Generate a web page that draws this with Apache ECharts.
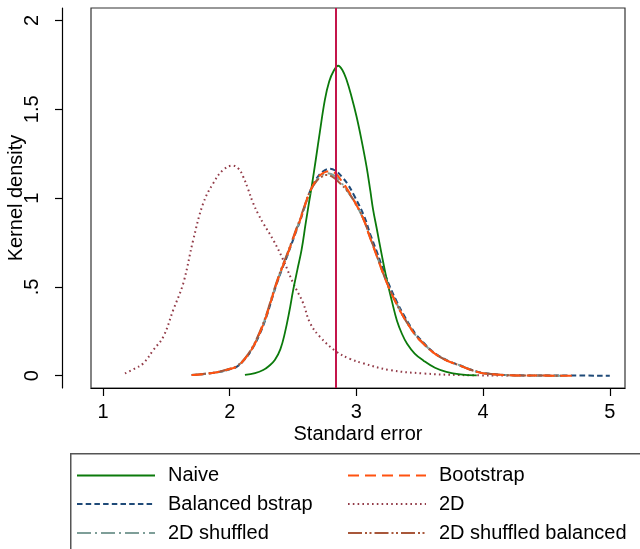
<!DOCTYPE html>
<html>
<head>
<meta charset="utf-8">
<script src="https://cdn.jsdelivr.net/npm/echarts@6.0.0/dist/echarts.min.js"></script>
<style>
html,body{margin:0;padding:0;background:#fff;}
#chart{width:640px;height:549px;}
</style>
</head>
<body>
<div id="chart"></div>
<script>
// ---- data ----
const xTicks = [1, 2, 3, 4, 5];
const xTickLabels = ['1', '2', '3', '4', '5'];
const yTicks = [0, 0.5, 1, 1.5, 2];
const yTickLabels = ['0', '.5', '1', '1.5', '2'];
const refLineX = 2.843;

const naive = [[2.12,0.005],[2.20,0.015],[2.264,0.032],[2.31,0.055],[2.356,0.088],[2.40,0.15],[2.435,0.24],[2.47,0.36],[2.501,0.483],[2.535,0.60],[2.567,0.708],[2.60,0.86],[2.627,0.98],[2.646,1.06],[2.68,1.22],[2.711,1.37],[2.751,1.553],[2.785,1.656],[2.82,1.715],[2.856,1.745],[2.89,1.72],[2.922,1.666],[2.961,1.572],[3.001,1.459],[3.040,1.328],[3.080,1.177],[3.11,1.04],[3.132,0.934],[3.16,0.83],[3.20,0.68],[3.24,0.54],[3.28,0.42],[3.32,0.31],[3.36,0.235],[3.40,0.18],[3.46,0.125],[3.53,0.085],[3.62,0.045],[3.71,0.022],[3.82,0.008],[3.95,0.002]];

const bootstrap = [[1.70,0.004],[1.80,0.010],[1.923,0.023],[2.00,0.038],[2.054,0.051],[2.12,0.095],[2.185,0.163],[2.24,0.245],[2.291,0.34],[2.33,0.43],[2.37,0.52],[2.41,0.60],[2.449,0.67],[2.49,0.75],[2.528,0.825],[2.555,0.875],[2.58,0.93],[2.632,1.035],[2.685,1.105],[2.735,1.14],[2.79,1.152],[2.84,1.135],[2.88,1.1],[2.92,1.06],[2.974,0.995],[3.053,0.885],[3.106,0.78],[3.16,0.675],[3.211,0.575],[3.26,0.49],[3.316,0.405],[3.37,0.333],[3.421,0.274],[3.47,0.224],[3.526,0.182],[3.59,0.14],[3.658,0.106],[3.73,0.08],[3.815,0.058],[3.90,0.034],[3.987,0.016],[4.10,0.007],[4.254,0.002],[4.45,0.001],[4.70,0]];

const balancedBstrap = [[1.70,0.004],[1.80,0.010],[1.923,0.022],[2.00,0.036],[2.054,0.05],[2.12,0.093],[2.185,0.16],[2.24,0.24],[2.291,0.335],[2.33,0.425],[2.37,0.515],[2.41,0.595],[2.449,0.665],[2.49,0.745],[2.528,0.82],[2.555,0.87],[2.58,0.925],[2.632,1.035],[2.685,1.11],[2.735,1.15],[2.79,1.165],[2.84,1.152],[2.885,1.12],[2.93,1.08],[2.985,1.01],[3.06,0.9],[3.11,0.795],[3.165,0.69],[3.215,0.59],[3.265,0.5],[3.32,0.415],[3.375,0.34],[3.425,0.28],[3.475,0.228],[3.53,0.186],[3.59,0.143],[3.66,0.108],[3.73,0.082],[3.815,0.059],[3.90,0.035],[3.987,0.017],[4.10,0.008],[4.254,0.003],[4.45,0.001],[4.70,0.001],[5.00,0]];

const twoD = [[1.173,0.013],[1.25,0.04],[1.318,0.07],[1.397,0.145],[1.476,0.22],[1.554,0.37],[1.633,0.52],[1.712,0.765],[1.791,0.971],[1.870,1.084],[1.949,1.159],[2.023,1.183],[2.07,1.165],[2.106,1.121],[2.145,1.05],[2.185,0.971],[2.225,0.91],[2.264,0.859],[2.343,0.765],[2.422,0.652],[2.501,0.521],[2.58,0.408],[2.632,0.30],[2.711,0.22],[2.843,0.135],[2.95,0.095],[3.053,0.07],[3.263,0.032],[3.526,0.013],[3.815,0.004],[4.2,0.001]];

const twoDShuffled = [[1.70,0.004],[1.80,0.010],[1.923,0.023],[2.00,0.038],[2.054,0.052],[2.12,0.096],[2.185,0.165],[2.24,0.248],[2.291,0.343],[2.33,0.433],[2.37,0.522],[2.41,0.602],[2.449,0.672],[2.49,0.752],[2.528,0.826],[2.555,0.876],[2.58,0.928],[2.632,1.03],[2.685,1.1],[2.735,1.132],[2.775,1.14],[2.83,1.125],[2.87,1.095],[2.915,1.055],[2.974,0.99],[3.053,0.886],[3.106,0.782],[3.16,0.678],[3.211,0.578],[3.26,0.492],[3.316,0.408],[3.37,0.336],[3.421,0.277],[3.47,0.226],[3.526,0.184],[3.59,0.141],[3.658,0.107],[3.73,0.081],[3.815,0.059],[3.90,0.035],[3.987,0.016],[4.10,0.007],[4.254,0.002],[4.45,0.001],[4.65,0]];

const twoDShuffledBal = [[1.70,0.004],[1.80,0.011],[1.923,0.024],[2.00,0.039],[2.054,0.053],[2.12,0.098],[2.185,0.168],[2.24,0.252],[2.291,0.348],[2.33,0.438],[2.37,0.527],[2.41,0.607],[2.449,0.677],[2.49,0.757],[2.528,0.832],[2.555,0.882],[2.58,0.935],[2.632,1.035],[2.685,1.095],[2.73,1.122],[2.765,1.13],[2.815,1.118],[2.86,1.09],[2.91,1.055],[2.974,0.993],[3.053,0.888],[3.106,0.783],[3.16,0.678],[3.211,0.576],[3.26,0.49],[3.316,0.406],[3.37,0.334],[3.421,0.275],[3.47,0.225],[3.526,0.183],[3.59,0.14],[3.658,0.106],[3.73,0.08],[3.815,0.058],[3.90,0.034],[3.987,0.016],[4.10,0.007],[4.254,0.002],[4.45,0.001],[4.62,0]];

// ---- chart ----
const FONT = "'Liberation Sans', Arial, sans-serif";
const chart = echarts.init(document.getElementById('chart'), null, {renderer: 'canvas'});

const styles = {
  'Naive':                {color: '#0b7a0b', dash: 'solid', width: 1.8, z: 3},
  'Bootstrap':            {color: '#ff5210', dash: [11, 6], width: 2, z: 4},
  'Balanced bstrap':      {color: '#1f4a78', dash: [5.5, 3.2], width: 2, z: 2},
  '2D':                   {color: '#923b48', dash: [1.6, 3.2], width: 2, z: 2},
  '2D shuffled':          {color: '#7e9e98', dash: [14, 4, 2, 4], width: 2, z: 3},
  '2D shuffled balanced': {color: '#a8573a', dash: [14, 3, 2, 2.5, 2, 3], width: 2, z: 3}
};

function mkSeries(name, data) {
  const s = styles[name];
  return {
    name: name, type: 'line', data: data, smooth: 0.4, symbol: 'none', showSymbol: false,
    z: s.z, animation: false, silent: true,
    lineStyle: {color: s.color, width: s.width, type: s.dash, cap: 'butt'},
    itemStyle: {color: s.color}
  };
}

const series = [
  mkSeries('Naive', naive),
  mkSeries('Bootstrap', bootstrap),
  mkSeries('Balanced bstrap', balancedBstrap),
  mkSeries('2D', twoD),
  mkSeries('2D shuffled', twoDShuffled),
  mkSeries('2D shuffled balanced', twoDShuffledBal)
];
series[0].markLine = {
  silent: true, animation: false, symbol: ['none', 'none'], label: {show: false},
  lineStyle: {color: '#c4154b', width: 2, type: 'solid'},
  data: [{xAxis: refLineX}]
};

// legend drawn as graphic (2 columns x 3 rows)
const legendOrder = [['Naive', 'Bootstrap'], ['Balanced bstrap', '2D'], ['2D shuffled', '2D shuffled balanced']];
const legendGraphics = [{
  type: 'rect', left: 70, top: 453, z: 0, silent: true,
  shape: {width: 620, height: 130},
  style: {fill: '#fff', stroke: '#555', lineWidth: 1.5}
}];
const colX = [[77, 155, 168], [348, 426, 439]];
const rowY = [475.5, 504, 533];
legendOrder.forEach(function (row, r) {
  row.forEach(function (name, c) {
    const s = styles[name];
    legendGraphics.push({
      type: 'line', silent: true, z: 10,
      shape: {x1: colX[c][0], y1: rowY[r], x2: colX[c][1], y2: rowY[r]},
      style: {stroke: s.color, lineWidth: s.width, lineDash: s.dash === 'solid' ? null : s.dash}
    });
    legendGraphics.push({
      type: 'text', silent: true, z: 10, x: colX[c][2], y: rowY[r],
      style: {text: name, fill: '#000', font: '20px ' + FONT, textVerticalAlign: 'middle', verticalAlign: 'middle', textAlign: 'left'}
    });
  });
});

const option = {
  backgroundColor: '#fff',
  animation: false,
  textStyle: {fontFamily: FONT},
  grid: {left: 91, top: 8, width: 534, height: 380, show: true, borderColor: '#333', borderWidth: 1.2,
    backgroundColor: '#fff', containLabel: false, outerBoundsMode: 'none'},
  xAxis: {
    type: 'value', min: 0.905, max: 5.12,
    name: 'Standard error', nameLocation: 'middle', nameGap: 36, nameMoveOverlap: false,
    nameTextStyle: {fontFamily: FONT, fontSize: 20, color: '#000'},
    axisLine: {show: true, onZero: false, lineStyle: {color: '#000', width: 1.2}},
    axisTick: {show: true, length: 8, inside: false, customValues: xTicks, lineStyle: {color: '#000', width: 1.2}},
    axisLabel: {show: true, customValues: xTicks, margin: 14, fontFamily: FONT, fontSize: 20, color: '#000',
      formatter: function (v) { const i = xTicks.indexOf(Math.round(v * 1000) / 1000); return i >= 0 ? xTickLabels[i] : ''; }},
    splitLine: {show: false}
  },
  yAxis: {
    type: 'value', min: -0.069, max: 2.07, offset: 29,
    name: 'Kernel density', nameLocation: 'middle', nameGap: 36, nameRotate: 90, nameMoveOverlap: false,
    nameTextStyle: {fontFamily: FONT, fontSize: 20, color: '#000'},
    axisLine: {show: true, onZero: false, lineStyle: {color: '#000', width: 1.2}},
    axisTick: {show: true, length: 7, inside: false, customValues: yTicks, lineStyle: {color: '#000', width: 1.2}},
    axisLabel: {show: true, customValues: yTicks, rotate: 90, margin: 20, fontFamily: FONT, fontSize: 20, color: '#000',
      formatter: function (v) { const i = yTicks.indexOf(Math.round(v * 1000) / 1000); return i >= 0 ? yTickLabels[i] : ''; }},
    splitLine: {show: false}
  },
  graphic: legendGraphics,
  series: series
};
chart.setOption(option);
</script>
</body>
</html>
